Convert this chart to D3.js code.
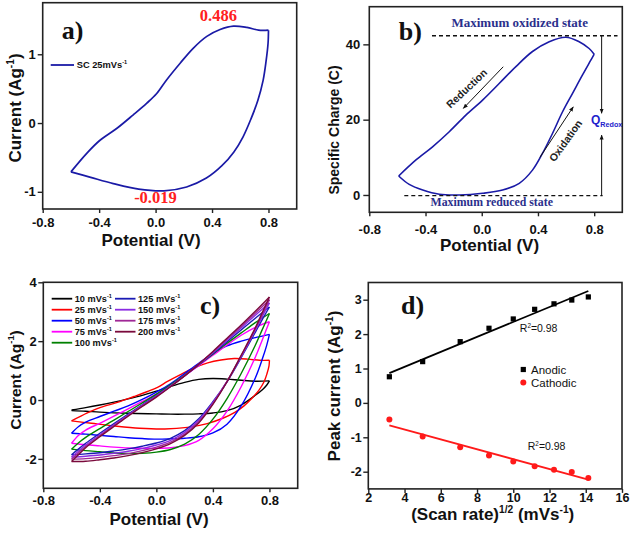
<!DOCTYPE html>
<html><head><meta charset="utf-8">
<script src="https://cdn.jsdelivr.net/npm/d3@7/dist/d3.min.js"></script>
<style>body{margin:0;background:#fff}svg{display:block}</style>
</head><body>
<svg id="fig" width="632" height="534"></svg>
<script>
// ---------------- DATA ----------------
const potentialTicks = [-0.8, -0.4, 0, 0.4, 0.8];
const aCurrentTicks = [-1, 0, 1];
const bChargeTicks = [0, 20, 40];
const cCurrentTicks = [-2, 0, 2, 4];
const dCurrentTicks = [-2, -1, 0, 1, 2, 3];
const dRateTicks = [2, 4, 6, 8, 10, 12, 14, 16];

// CV at 25 mV/s (panel a, also red loop in panel c): [potential V, current A/g]
const cv25Upper = [[-0.6,-0.71],[-0.488,-0.44],[-0.394,-0.25],[-0.276,-0.08],[-0.158,0.12],[-0.062,0.29],[0.008,0.43],[0.079,0.63],[0.174,0.87],[0.268,1.09],[0.363,1.26],[0.457,1.36],[0.552,1.41],[0.647,1.39],[0.73,1.35],[0.8,1.35]];
const cv25Lower = [[0.8,1.35],[0.797,1.16],[0.783,0.9],[0.762,0.62],[0.725,0.33],[0.676,0.06],[0.62,-0.2],[0.555,-0.42],[0.47,-0.62],[0.36,-0.8],[0.22,-0.93],[0.06,-0.985],[-0.12,-0.96],[-0.3,-0.88],[-0.46,-0.79],[-0.6,-0.71]];

// Specific charge (panel b): [potential V, charge C]
const chargeUpper = [[-0.591,5.04],[-0.468,9.3],[-0.35,12.8],[-0.231,16.8],[-0.113,21.2],[0.006,25.2],[0.124,29.6],[0.243,34.1],[0.361,38.1],[0.48,40.7],[0.598,41.9],[0.693,40.7],[0.764,38.9],[0.8,37.4]];
const chargeLower = [[0.8,37.4],[0.776,35.8],[0.717,31.9],[0.646,27],[0.575,22.1],[0.504,16.4],[0.433,11.1],[0.361,6.6],[0.267,3.1],[0.148,1.3],[0.006,0.44],[-0.16,0],[-0.302,0.18],[-0.42,1.3],[-0.516,2.8],[-0.591,5.04]];

// CV loops for panel c
const cv10Upper = [[-0.6,-0.34],[-0.5,-0.26],[-0.4,-0.17],[-0.3,-0.07],[-0.2,0.04],[-0.1,0.16],[0,0.3],[0.1,0.46],[0.2,0.6],[0.3,0.7],[0.4,0.73],[0.5,0.71],[0.6,0.67],[0.7,0.64],[0.8,0.65]];
const cv10Lower = [[0.8,0.65],[0.78,0.5],[0.75,0.35],[0.7,0.16],[0.6,-0.17],[0.5,-0.36],[0.4,-0.44],[0.3,-0.47],[0.2,-0.48],[0.1,-0.48],[0,-0.47],[-0.2,-0.45],[-0.4,-0.41],[-0.5,-0.38],[-0.6,-0.36]];
const cv50Upper = [[-0.6,-1.13],[-0.55,-0.9],[-0.5,-0.75],[-0.4,-0.56],[-0.3,-0.38],[-0.2,-0.2],[-0.1,0.02],[0,0.27],[0.1,0.55],[0.2,0.9],[0.3,1.25],[0.4,1.58],[0.5,1.84],[0.6,2.0],[0.7,2.12],[0.8,2.23]];
const cv50Lower = [[0.8,2.23],[0.78,1.85],[0.75,1.4],[0.7,0.75],[0.6,-0.2],[0.5,-0.82],[0.4,-1.12],[0.3,-1.25],[0.2,-1.3],[0.1,-1.32],[0,-1.33],[-0.1,-1.31],[-0.2,-1.28],[-0.3,-1.24],[-0.4,-1.2],[-0.5,-1.16],[-0.6,-1.13]];
const cv75Upper = [[-0.6,-1.47],[-0.55,-1.2],[-0.5,-1.02],[-0.4,-0.79],[-0.3,-0.55],[-0.2,-0.3],[-0.1,-0.05],[0,0.2],[0.1,0.5],[0.2,0.83],[0.3,1.17],[0.4,1.52],[0.5,1.87],[0.6,2.2],[0.7,2.47],[0.8,2.66]];
const cv75Lower = [[0.8,2.66],[0.75,2.05],[0.7,1.45],[0.6,0.45],[0.5,-0.38],[0.4,-0.98],[0.3,-1.37],[0.2,-1.55],[0.1,-1.62],[0,-1.64],[-0.1,-1.64],[-0.2,-1.63],[-0.3,-1.6],[-0.4,-1.56],[-0.5,-1.52],[-0.6,-1.47]];
const cv100Upper = [[-0.6,-1.67],[-0.55,-1.45],[-0.5,-1.27],[-0.4,-0.97],[-0.3,-0.68],[-0.2,-0.39],[-0.1,-0.1],[0,0.2],[0.1,0.52],[0.2,0.85],[0.3,1.2],[0.4,1.56],[0.5,1.93],[0.6,2.28],[0.7,2.63],[0.8,2.94]];
const cv100Lower = [[0.8,2.94],[0.75,2.4],[0.7,1.86],[0.6,0.9],[0.5,0.05],[0.4,-0.65],[0.3,-1.17],[0.2,-1.5],[0.1,-1.68],[0,-1.77],[-0.1,-1.81],[-0.2,-1.82],[-0.3,-1.8],[-0.4,-1.76],[-0.5,-1.72],[-0.6,-1.67]];
const cv125Upper = [[-0.6,-1.86],[-0.55,-1.66],[-0.5,-1.47],[-0.4,-1.13],[-0.3,-0.8],[-0.2,-0.48],[-0.1,-0.16],[0,0.15],[0.1,0.48],[0.2,0.83],[0.3,1.2],[0.4,1.58],[0.5,1.98],[0.6,2.38],[0.7,2.78],[0.8,3.16]];
const cv125Lower = [[0.8,3.16],[0.75,2.74],[0.7,2.3],[0.6,1.44],[0.5,0.62],[0.4,-0.06],[0.3,-0.64],[0.2,-1.04],[0.1,-1.3],[0,-1.46],[-0.1,-1.57],[-0.2,-1.66],[-0.3,-1.73],[-0.4,-1.79],[-0.5,-1.83],[-0.6,-1.86]];
const cv150Upper = [[-0.6,-1.94],[-0.55,-1.73],[-0.5,-1.53],[-0.4,-1.18],[-0.3,-0.84],[-0.2,-0.51],[-0.1,-0.18],[0,0.13],[0.1,0.47],[0.2,0.83],[0.3,1.21],[0.4,1.61],[0.5,2.03],[0.6,2.45],[0.7,2.88],[0.8,3.3]];
const cv150Lower = [[0.8,3.3],[0.75,2.84],[0.7,2.37],[0.6,1.47],[0.5,0.63],[0.4,-0.09],[0.3,-0.69],[0.2,-1.1],[0.1,-1.37],[0,-1.53],[-0.1,-1.65],[-0.2,-1.74],[-0.3,-1.81],[-0.4,-1.87],[-0.5,-1.91],[-0.6,-1.94]];
const cv175Upper = [[-0.6,-2.01],[-0.55,-1.79],[-0.5,-1.58],[-0.4,-1.22],[-0.3,-0.87],[-0.2,-0.53],[-0.1,-0.2],[0,0.12],[0.1,0.46],[0.2,0.83],[0.3,1.22],[0.4,1.63],[0.5,2.07],[0.6,2.5],[0.7,2.95],[0.8,3.41]];
const cv175Lower = [[0.8,3.41],[0.75,2.92],[0.7,2.42],[0.6,1.5],[0.5,0.63],[0.4,-0.12],[0.3,-0.74],[0.2,-1.16],[0.1,-1.43],[0,-1.6],[-0.1,-1.72],[-0.2,-1.82],[-0.3,-1.89],[-0.4,-1.95],[-0.5,-1.99],[-0.6,-2.01]];
const cv200Upper = [[-0.6,-2.09],[-0.55,-1.85],[-0.5,-1.62],[-0.4,-1.25],[-0.3,-0.9],[-0.2,-0.55],[-0.1,-0.22],[0,0.1],[0.1,0.45],[0.2,0.82],[0.3,1.22],[0.4,1.65],[0.5,2.1],[0.6,2.55],[0.7,3.02],[0.8,3.5]];
const cv200Lower = [[0.8,3.5],[0.75,2.98],[0.7,2.45],[0.6,1.52],[0.5,0.62],[0.4,-0.15],[0.3,-0.78],[0.2,-1.2],[0.1,-1.48],[0,-1.66],[-0.1,-1.79],[-0.2,-1.89],[-0.3,-1.97],[-0.4,-2.03],[-0.5,-2.08],[-0.6,-2.09]];

const scanRates = [10, 25, 50, 75, 100, 125, 150, 175, 200];
const scanColors = ['#000000','#ff0000','#0000ff','#ff00ff','#008000','#1a1ab4','#8a2be2','#a02896','#7a0a3c'];
const cvLoops = [[cv10Upper,cv10Lower],[cv25Upper,cv25Lower],[cv50Upper,cv50Lower],[cv75Upper,cv75Lower],[cv100Upper,cv100Lower],[cv125Upper,cv125Lower],[cv150Upper,cv150Lower],[cv175Upper,cv175Lower],[cv200Upper,cv200Lower]];

// Panel d: peak currents vs sqrt(scan rate)
const anodicPeak = [0.76, 1.20, 1.78, 2.17, 2.44, 2.72, 2.88, 2.99, 3.08];
const cathodicPeak = [-0.48, -0.98, -1.29, -1.53, -1.70, -1.84, -1.94, -2.01, -2.18];

// ---------------- DRAWING ----------------
const svg = d3.select('#fig');
const SANS = '"Liberation Sans", Arial, sans-serif';
const SERIF = '"Liberation Serif", "Times New Roman", serif';

const defs = svg.append('defs');
defs.append('marker').attr('id','arr').attr('viewBox','0 0 10 10').attr('refX',9).attr('refY',5)
  .attr('markerWidth',5).attr('markerHeight',5).attr('orient','auto-start-reverse')
  .append('path').attr('d','M0,1 L10,5 L0,9 Z').attr('fill','#111');

function rich(sel, parts, fs){
  let cur = 0;
  parts.forEach(([t,k]) => {
    const target = k==='sup' ? -fs*0.42 : (k==='sub' ? fs*0.3 : 0);
    const ts = sel.append('tspan').text(t).attr('dy', target-cur);
    if(k) ts.attr('font-size', fs*0.6);
    cur = target;
  });
  return sel;
}

function makePanel(p){
  const x = d3.scaleLinear().domain(p.xd).range([p.l,p.r]);
  const y = d3.scaleLinear().domain(p.yd).range([p.b,p.t]);
  const g = svg.append('g');
  const xa = g.append('g').attr('transform',`translate(0,${p.b})`)
    .call(d3.axisBottom(x).tickValues(p.xt).tickFormat(p.xf).tickSize(p.xts).tickSizeOuter(0).tickPadding(p.xpad));
  const ya = g.append('g').attr('transform',`translate(${p.l},0)`)
    .call(d3.axisLeft(y).tickValues(p.yt).tickFormat(p.yf).tickSize(p.yts).tickSizeOuter(0).tickPadding(p.ypad));
  [xa,ya].forEach(a => {
    a.select('.domain').remove();
    a.selectAll('line').attr('stroke','#222').attr('stroke-width',1.4);
    a.selectAll('text').attr('font-family',SANS).attr('font-weight','bold').attr('font-size',p.tfs).attr('fill','#111');
  });
  g.append('rect').attr('x',p.l).attr('y',p.t).attr('width',p.r-p.l).attr('height',p.b-p.t)
    .attr('fill','none').attr('stroke','#222').attr('stroke-width',1.6);
  rich(g.append('text').attr('x',p.xtx).attr('y',p.xty).attr('text-anchor','middle')
    .attr('font-family',SANS).attr('font-weight','bold').attr('font-size',17).attr('fill','#111'), p.xTitle, 17);
  rich(g.append('text').attr('transform',`translate(${p.ytx},${p.yty}) rotate(-90)`).attr('text-anchor','middle')
    .attr('font-family',SANS).attr('font-weight','bold').attr('font-size',p.ytfs).attr('fill','#111'), p.yTitle, p.ytfs);
  g.append('text').attr('x',p.lx).attr('y',p.ly).attr('font-family',SERIF).attr('font-weight','bold')
    .attr('font-size',26).attr('fill','#111').text(p.label);
  return {g,x,y};
}

const fmt1 = d => d.toFixed(1);
const fmt0 = d => String(d);
const line = (x,y) => d3.line().x(d=>x(d[0])).y(d=>y(d[1])).curve(d3.curveCatmullRom.alpha(0.5));

// ----- Panel a -----
{
  const {g,x,y} = makePanel({l:42.7,r:296.7,t:2.7,b:209,xd:[-0.8,1.0],yd:[-1.25,1.75],
    xt:potentialTicks,yt:aCurrentTicks,xf:fmt1,yf:fmt0,xts:4,yts:5,xpad:4.5,ypad:2,tfs:13,
    xTitle:[['Potential (V)']],xtx:151,xty:245.5,
    yTitle:[['Current (Ag'],['-1','sup'],[')']],ytx:21,yty:108,ytfs:17,label:'a)',lx:61.7,ly:38.5});
  const L = line(x,y);
  [cv25Upper,cv25Lower].forEach(d => g.append('path').attr('d',L(d)).attr('fill','none').attr('stroke','#1a1aa6').attr('stroke-width',1.7));
  g.append('line').attr('x1',50.7).attr('x2',74).attr('y1',65).attr('y2',65).attr('stroke','#1a1aa6').attr('stroke-width',1.8);
  rich(g.append('text').attr('x',76.7).attr('y',68.3).attr('font-family',SANS).attr('font-weight','bold').attr('font-size',9.3).attr('fill','#111'),
    [['SC 25mVs'],['-1','sup']],9.3);
  g.append('text').attr('x',x(0.445)).attr('y',y(1.49)).attr('text-anchor','middle').attr('font-family',SERIF).attr('font-weight','bold')
    .attr('font-size',16.5).attr('fill','#ff2020').text('0.486');
  g.append('text').attr('x',x(-0.001)).attr('y',y(-1.17)).attr('text-anchor','middle').attr('font-family',SERIF).attr('font-weight','bold')
    .attr('font-size',16.5).attr('fill','#ff2020').text('-0.019');
}

// ----- Panel b -----
{
  const {g,x,y} = makePanel({l:369.3,r:622.3,t:6.7,b:212.3,xd:[-0.8,1.0],yd:[-4.6,50],
    xt:potentialTicks,yt:bChargeTicks,xf:fmt1,yf:fmt0,xts:4,yts:6,xpad:8,ypad:3,tfs:13,
    xTitle:[['Potential (V)']],xtx:489.5,xty:250.5,
    yTitle:[['Specific Charge (C)']],ytx:339,yty:130,ytfs:14,label:'b)',lx:398.7,ly:39.5});
  const L = line(x,y);
  [chargeUpper,chargeLower].forEach(d => g.append('path').attr('d',L(d)).attr('fill','none').attr('stroke','#1a1aa6').attr('stroke-width',1.6));
  g.append('line').attr('x1',x(-0.354)).attr('x2',x(0.966)).attr('y1',y(42.3)).attr('y2',y(42.3)).attr('stroke','#111').attr('stroke-width',1.4).attr('stroke-dasharray','4,3');
  g.append('line').attr('x1',x(-0.551)).attr('x2',x(0.86)).attr('y1',y(-0.18)).attr('y2',y(-0.18)).attr('stroke','#111').attr('stroke-width',1.4).attr('stroke-dasharray','4,3');
  g.append('text').attr('x',x(0.27)).attr('y',y(44.5)).attr('text-anchor','middle').attr('font-family',SERIF).attr('font-weight','bold')
    .attr('font-size',13).attr('fill','#2b2f8c').text('Maximum oxidized state');
  g.append('text').attr('x',x(0.071)).attr('y',y(-2.9)).attr('text-anchor','middle').attr('font-family',SERIF).attr('font-weight','bold')
    .attr('font-size',11.8).attr('fill','#2b2f8c').text('Maximum reduced state');
  g.append('line').attr('x1',x(0.853)).attr('x2',x(0.853)).attr('y1',y(42.3)).attr('y2',y(21.7)).attr('stroke','#111').attr('stroke-width',1).attr('marker-end','url(#arr)');
  g.append('line').attr('x1',x(0.853)).attr('x2',x(0.853)).attr('y1',y(-0.18)).attr('y2',y(15.9)).attr('stroke','#111').attr('stroke-width',1).attr('marker-end','url(#arr)');
  rich(g.append('text').attr('x',x(0.777)).attr('y',y(18.9)).attr('font-family',SANS).attr('font-weight','bold').attr('font-size',12).attr('fill','#2222cc'),
    [['Q'],['Redox','sub']],12);
  g.append('line').attr('x1',x(0.153)).attr('y1',y(34.05)).attr('x2',x(-0.131)).attr('y2',y(23.0)).attr('stroke','#111').attr('stroke-width',1).attr('marker-end','url(#arr)');
  g.append('line').attr('x1',x(0.414)).attr('y1',y(10.0)).attr('x2',x(0.651)).attr('y2',y(23.4)).attr('stroke','#111').attr('stroke-width',1).attr('marker-end','url(#arr)');
  g.append('text').attr('transform',`translate(${x(-0.107)},${y(28.3)}) rotate(-43.5)`).attr('text-anchor','middle').attr('dy','0.35em')
    .attr('font-family',SANS).attr('font-size',10.5).attr('font-weight','bold').attr('fill','#222').text('Reduction');
  g.append('text').attr('transform',`translate(${x(0.597)},${y(14.4)}) rotate(-54.5)`).attr('text-anchor','middle').attr('dy','0.35em')
    .attr('font-family',SANS).attr('font-size',10.5).attr('font-weight','bold').attr('fill','#222').text('Oxidation');
}

// ----- Panel c -----
{
  const {g,x,y} = makePanel({l:43.3,r:297.7,t:282.3,b:488.3,xd:[-0.8,1.0],yd:[-3,4],
    xt:potentialTicks,yt:cCurrentTicks,xf:fmt1,yf:fmt0,xts:4,yts:5,xpad:3.5,ypad:1.5,tfs:13,
    xTitle:[['Potential (V)']],xtx:159,xty:525,
    yTitle:[['Current (Ag'],['-1','sup'],[')']],ytx:20.5,yty:380,ytfs:15.5,label:'c)',lx:200,ly:313.7});
  const L = line(x,y);
  cvLoops.forEach((loop,i) => loop.forEach(d => g.append('path').attr('d',L(d)).attr('fill','none')
    .attr('stroke',scanColors[i]).attr('stroke-width',1.4)));
  const rowsY = [298.7, 309.7, 320.7, 331.7, 342.7];
  scanRates.forEach((r,i) => {
    const col = i < 5 ? 0 : 1, row = i < 5 ? i : i-5;
    const lx = col ? 115 : 51.7, yy = rowsY[row];
    g.append('line').attr('x1',lx).attr('x2',lx+20.5).attr('y1',yy).attr('y2',yy).attr('stroke',scanColors[i]).attr('stroke-width',1.8);
    rich(g.append('text').attr('x',lx+23).attr('y',yy+3.2).attr('font-family',SANS).attr('font-weight','bold').attr('font-size',9.2).attr('fill','#111'),
      [[r+' mVs'],['-1','sup']],9.2);
  });
}

// ----- Panel d -----
{
  const {g,x,y} = makePanel({l:368.3,r:622,t:282.5,b:488.9,xd:[2,16],yd:[-2.5,3.5],
    xt:dRateTicks,yt:dCurrentTicks,xf:fmt0,yf:fmt0,xts:4,yts:5,xpad:0.5,ypad:1.5,tfs:12.5,
    xTitle:[['(Scan rate)'],['1/2','sup'],[' (mVs'],['-1','sup'],[')']],xtx:492.7,xty:520,
    yTitle:[['Peak current (Ag'],['-1','sup'],[')']],ytx:340,yty:386,ytfs:17,label:'d)',lx:401,ly:313.7});
  const xs = scanRates.map(r => Math.sqrt(r));
  function fit(ys){
    const mx = d3.mean(xs), my = d3.mean(ys);
    const s = d3.sum(xs.map((v,i)=>(v-mx)*(ys[i]-my))) / d3.sum(xs.map(v=>(v-mx)*(v-mx)));
    return v => my + s*(v-mx);
  }
  const fa = fit(anodicPeak), fc = fit(cathodicPeak);
  const x0 = d3.min(xs), x1 = d3.max(xs);
  g.append('line').attr('x1',x(x0)).attr('x2',x(x1)).attr('y1',y(fa(x0))).attr('y2',y(fa(x1))).attr('stroke','#000').attr('stroke-width',1.8);
  g.append('line').attr('x1',x(x0)).attr('x2',x(x1)).attr('y1',y(fc(x0))).attr('y2',y(fc(x1))).attr('stroke','#ff1a1a').attr('stroke-width',1.8);
  g.selectAll('rect.an').data(anodicPeak).join('rect').attr('class','an')
    .attr('x',(d,i)=>x(xs[i])-2.6).attr('y',d=>y(d)-2.6).attr('width',5.2).attr('height',5.2).attr('fill','#000');
  g.selectAll('circle.ca').data(cathodicPeak).join('circle').attr('class','ca')
    .attr('cx',(d,i)=>x(xs[i])).attr('cy',d=>y(d)).attr('r',3).attr('fill','#ff1a1a');
  rich(g.append('text').attr('x',x(10.36)).attr('y',y(2.06)).attr('font-family',SANS).attr('font-size',10.5).attr('fill','#111'),
    [['R'],['2','sup'],['=0.98']],10.5);
  rich(g.append('text').attr('x',x(10.8)).attr('y',y(-1.38)).attr('font-family',SANS).attr('font-size',10.5).attr('fill','#111'),
    [['R'],['2','sup'],['=0.98']],10.5);
  g.append('rect').attr('x',523.3-2.6).attr('y',369.5-2.6).attr('width',5.2).attr('height',5.2).attr('fill','#000');
  g.append('circle').attr('cx',523.3).attr('cy',382.5).attr('r',3).attr('fill','#ff1a1a');
  g.append('text').attr('x',531).attr('y',373.5).attr('font-family',SANS).attr('font-size',11.5).attr('fill','#111').text('Anodic');
  g.append('text').attr('x',531).attr('y',386.5).attr('font-family',SANS).attr('font-size',11.5).attr('fill','#111').text('Cathodic');
}
</script>
</body></html>
